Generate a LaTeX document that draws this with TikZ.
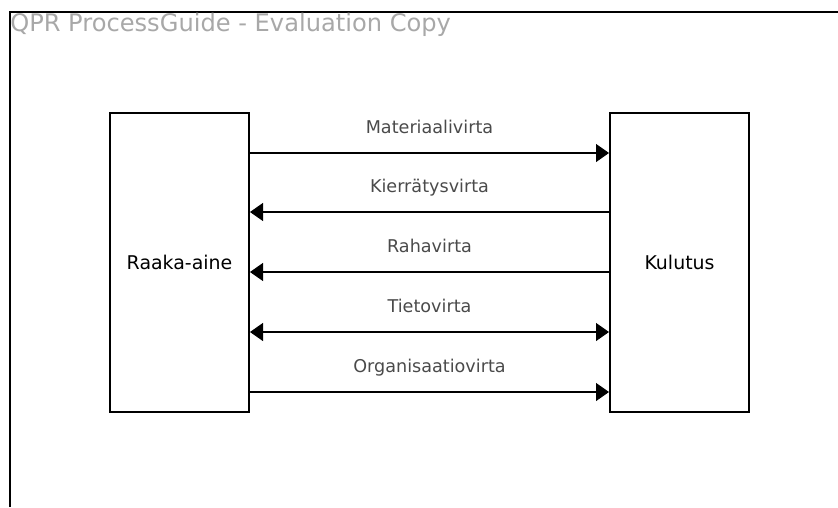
\documentclass[tikz,border=0pt]{standalone}
\usepackage{fontspec}
\setmainfont{DejaVu Sans}
\usetikzlibrary{arrows.meta}
\definecolor{labelgray}{HTML}{4A4A4A}
\definecolor{titlegray}{HTML}{A8A8A8}
\begin{document}
\begin{tikzpicture}[x=0.75pt,y=-0.75pt,
  blok/.style={draw, line width=1.5pt, minimum width=104.25pt, minimum height=224.25pt, inner sep=0pt, font=\fontsize{14.2}{17}\selectfont},
  virta/.style={line width=0.8pt},
  kohti/.style={-{Triangle[length=9.75pt,width=13.5pt]}},
  lbl/.style={midway, anchor=base, yshift=15pt, inner sep=0pt, text=labelgray, font=\fontsize{13.2}{15}\selectfont}]
\useasboundingbox (0,0) rectangle (838,507);
\draw [line width=1.5pt] (10,507) -- (10,12) -- (838,12);
\node [anchor=base west, inner sep=0pt, text=titlegray, font=\fontsize{18.1}{20}\selectfont] (otsikko) at (10,31) {QPR ProcessGuide - Evaluation Copy};

\node [blok] (raaka) at (179.5,262.5) {Raaka-aine};
\node [blok] (kulutus) at (679.5,262.5) {Kulutus};

\coordinate (y1) at (0,153);
\coordinate (y2) at (0,212);
\coordinate (y3) at (0,272);
\coordinate (y4) at (0,332);
\coordinate (y5) at (0,392);

\draw [virta,kohti] (raaka.east |- y1) -- (kulutus.west |- y1) node[lbl] {Materiaalivirta};
\draw [virta,kohti] (kulutus.west |- y2) -- (raaka.east |- y2) node[lbl] {Kierrätysvirta};
\draw [virta,kohti] (kulutus.west |- y3) -- (raaka.east |- y3) node[lbl] {Rahavirta};
\draw [virta,{Triangle[length=9.75pt,width=13.5pt]}-{Triangle[length=9.75pt,width=13.5pt]}] (raaka.east |- y4) -- (kulutus.west |- y4) node[lbl] {Tietovirta};
\draw [virta,kohti] (raaka.east |- y5) -- (kulutus.west |- y5) node[lbl] {Organisaatiovirta};

\end{tikzpicture}
\end{document}
